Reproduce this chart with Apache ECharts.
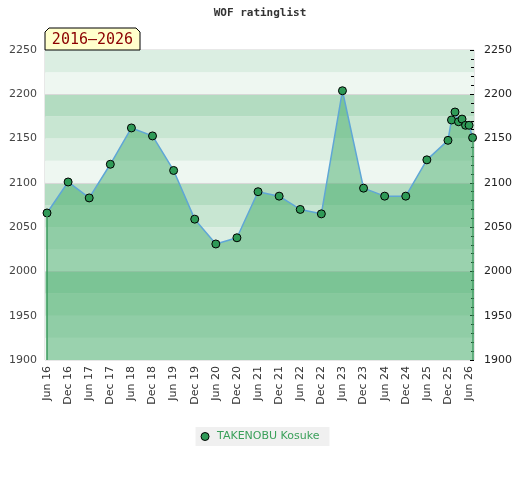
<!DOCTYPE html>
<html>
<head>
<meta charset="utf-8">
<script src="https://cdn.jsdelivr.net/npm/echarts@6/dist/echarts.min.js"></script>
<style>
html,body{margin:0;padding:0;background:#fff;}
#chart{width:520px;height:480px;}
</style>
</head>
<body>
<div id="chart"></div>
<script>
// ---- data ----
const listDates = ['2016-06','2016-12','2017-06','2017-12','2018-06','2018-12','2019-06','2019-12',
  '2020-06','2020-12','2021-06','2021-12','2022-06','2022-12','2023-06','2023-12',
  '2024-06','2024-12','2025-06','2025-12','2026-01','2026-02','2026-03','2026-04',
  '2026-05','2026-06','2026-07'];
const ratings = [2066,2101,2083,2121,2162,2153,2114,2059,2031,2038,2090,2085,2070,2065,2204,2094,
  2085,2085,2126,2148,2171,2180,2169,2172,2165,2165,2151];
const tickDates = ['2016-06','2016-12','2017-06','2017-12','2018-06','2018-12','2019-06','2019-12',
  '2020-06','2020-12','2021-06','2021-12','2022-06','2022-12','2023-06','2023-12',
  '2024-06','2024-12','2025-06','2025-12','2026-06'];
const playerName = 'TAKENOBU Kosuke';
const chartTitle = 'WOF ratinglist';
const periodLabel = '2016–2026';
const yMin = 1900, yMax = 2250;

// month index since Jan 2016
const monthIdx = s => { const [y,m] = s.split('-').map(Number); return (y-2016)*12 + (m-1); };
const monNames = ['Jan','Feb','Mar','Apr','May','Jun','Jul','Aug','Sep','Oct','Nov','Dec'];
const monLabel = v => { const y = Math.floor(v/12), m = Math.round(v - y*12); return monNames[m] + ' ' + String(16+y).padStart(2,'0'); };

const points = listDates.map((d,i) => [monthIdx(d), ratings[i]]);
const tickVals = tickDates.map(monthIdx);

// background bands every 25 points
const bandCols = ['#eef7f1','#dbeee2','#c8e6d2','#b3dcc1'];
const bands = [];
for (let v = yMin; v < yMax; v += 25) {
  bands.push([{yAxis: v, itemStyle:{color: bandCols[((v % 100)/25)|0], opacity:1}}, {yAxis: v+25}]);
}
const hundredLines = [];
for (let v = 2000; v < yMax; v += 100) hundredLines.push({yAxis: v});

const first = points[0], last = points[points.length-1];
const chart = echarts.init(document.getElementById('chart'), null, {renderer:'canvas'});
const font = 'DejaVu Sans';
chart.setOption({
  animation: false,
  title: {text: chartTitle, left: 'center', top: 3,
    textStyle:{fontFamily:'DejaVu Sans Mono', fontSize:11, fontWeight:'bold', color:'#333'}},
  grid: {left:45, right:46, top:50, bottom:120, show:true, borderColor:'#d0d0d0', borderWidth:1, backgroundColor:'transparent'},
  legend: {data:[playerName], top:427, left:'center', backgroundColor:'#f0f0f0', padding:[4,10,4,5],
    itemWidth:14, itemHeight:8, icon:'circle',
    itemStyle:{color:'#2f9a57', borderColor:'#000', borderWidth:1},
    textStyle:{color:'#3aa05a', fontFamily:font, fontSize:11}},
  xAxis: {type:'value', min:4.43, max:126.4,
    axisLine:{show:false}, axisTick:{show:false}, splitLine:{show:false},
    axisLabel:{customValues:tickVals, rotate:90, formatter:monLabel, color:'#333', fontFamily:font, fontSize:11, margin:6}},
  yAxis: [
    {type:'value', min:yMin, max:yMax, interval:50, position:'left',
      axisLine:{show:false}, axisTick:{show:false}, splitLine:{show:false},
      axisLabel:{formatter: v => String(v), color:'#444', fontFamily:font, fontSize:11, margin:8}},
    {type:'value', min:yMin, max:yMax, interval:50, position:'right',
      axisLine:{show:false}, splitLine:{show:false},
      axisTick:{show:true, inside:true, length:4, lineStyle:{color:'#000'}},
      minorTick:{show:true, splitNumber:5, length:3, lineStyle:{color:'#000'}},
      axisLabel:{formatter: v => String(v), color:'#222', fontFamily:font, fontSize:11, margin:10}}
  ],
  graphic: [
    {type:'polygon', z:100, shape:{points:[[45,50],[45,32],[49,28],[136,28],[140,32],[140,50]]},
      style:{fill:'#ffffcc', stroke:'#000', lineWidth:1}},
    {type:'text', z:101, x:92.5, y:40, style:{text:periodLabel, fill:'#8b0000',
      font:'15px "DejaVu Sans Mono"', align:'center', verticalAlign:'middle'}}
  ],
  series: [
    {name:'bands', type:'line', data:[], z:0, silent:true,
      markArea:{silent:true, z:0, data:bands},
      markLine:{silent:true, z:0, symbol:'none', label:{show:false},
        lineStyle:{color:'#d8d8d8', width:1, type:'solid'}, data:hundredLines}},
    {name: playerName, type:'line', data: points, z:3,
      symbol:'circle', symbolSize:8,
      itemStyle:{color:'#2f9a57', borderColor:'#000', borderWidth:1},
      lineStyle:{color:'#5fa6d6', width:1.5},
      areaStyle:{color:'rgb(63,170,101)', opacity:0.48, origin:'start'},
      markLine:{silent:true, symbol:'none', label:{show:false},
        lineStyle:{color:'#3a9a5c', width:1.5, type:'solid'},
        data:[[{coord:[first[0], yMin]},{coord:[first[0], first[1]]}],
              [{coord:[last[0], yMin]},{coord:[last[0], last[1]]}]]}}
  ]
});
</script>
</body>
</html>
